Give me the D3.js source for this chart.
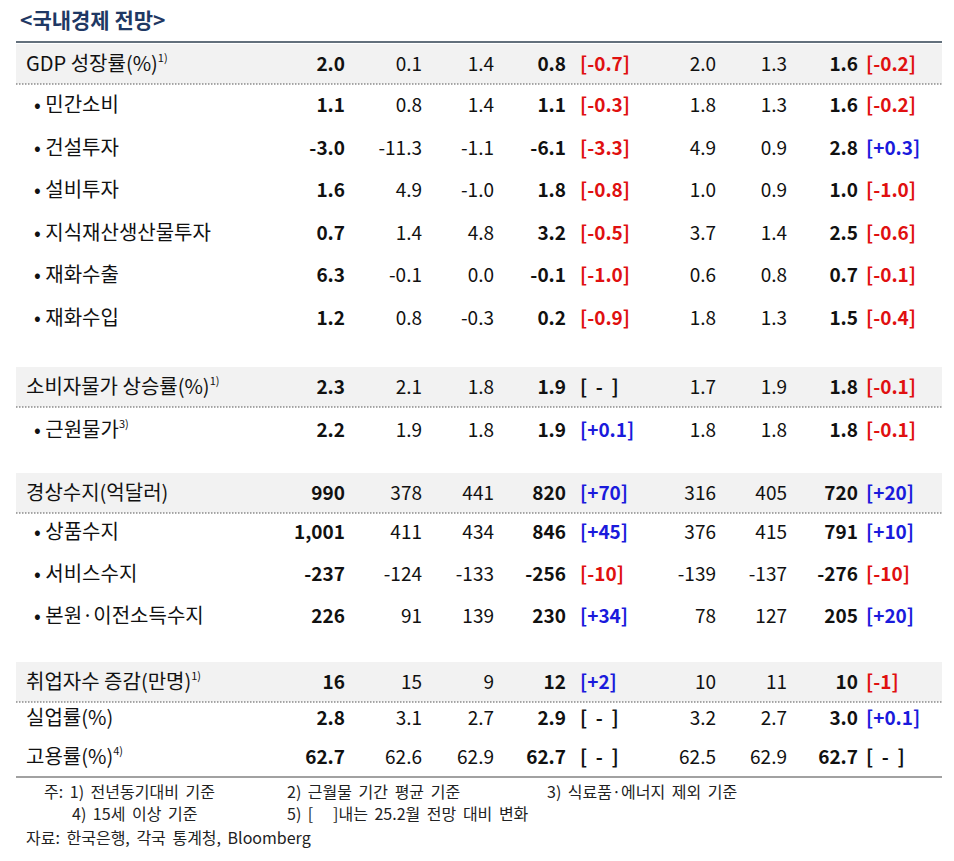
<!DOCTYPE html><html><head><meta charset="utf-8"><script src="https://cdn.jsdelivr.net/npm/d3@7"></script>
<style>body{margin:0;background:#fff}text{font-family:"Noto Sans CJK KR",sans-serif}</style></head><body><svg id="c" width="954" height="861"></svg>
<script>
const labels=["GDP 성장률(%)|1)","• 민간소비","• 건설투자","• 설비투자","• 지식재산생산물투자","• 재화수출","• 재화수입","소비자물가 상승률(%)|1)","• 근원물가|3)","경상수지(억달러)","• 상품수지","• 서비스수지","• 본원·이전소득수지","취업자수 증감(만명)|1)","실업률(%)","고용률(%)|4)"];
const rowY=[64,105,148,190,233,275,318,387,430,493,532,574,616,682,718,757];
const headerRows=[0,7,9,13];
const col1=["2.0","1.1","-3.0","1.6","0.7","6.3","1.2","2.3","2.2","990","1,001","-237","226","16","2.8","62.7"];
const col2=["0.1","0.8","-11.3","4.9","1.4","-0.1","0.8","2.1","1.9","378","411","-124","91","15","3.1","62.6"];
const col3=["1.4","1.4","-1.1","-1.0","4.8","0.0","-0.3","1.8","1.8","441","434","-133","139","9","2.7","62.9"];
const col4=["0.8","1.1","-6.1","1.8","3.2","-0.1","0.2","1.9","1.9","820","846","-256","230","12","2.9","62.7"];
const chg1=["-0.7","-0.3","-3.3","-0.8","-0.5","-1.0","-0.9"," - ","+0.1","+70","+45","-10","+34","+2"," - "," - "];
const col5=["2.0","1.8","4.9","1.0","3.7","0.6","1.8","1.7","1.8","316","376","-139","78","10","3.2","62.5"];
const col6=["1.3","1.3","0.9","0.9","1.4","0.8","1.3","1.9","1.8","405","415","-137","127","11","2.7","62.9"];
const col7=["1.6","1.6","2.8","1.0","2.5","0.7","1.5","1.8","1.8","720","791","-276","205","10","3.0","62.7"];
const chg2=["-0.2","-0.2","+0.3","-1.0","-0.6","-0.1","-0.4","-0.1","-0.1","+20","+10","-10","+20","-1","+0.1"," - "];
const notes=[["주: 1) 전년동기대비 기준",44,792],["2) 근월물 기간 평균 기준",287,792],["3) 식료품·에너지 제외 기준",547,792],["4) 15세 이상 기준",72,814],["5) [   ]내는 25.2월 전망 대비 변화",287,814],["자료: 한국은행, 각국 통계청, Bloomberg",26,838]];
const svg=d3.select("#c");
const y=d3.scaleLinear().domain([0,861]).range([0,861]);
svg.append("text").attr("x",20).attr("y",y(28)).attr("font-size",21).attr("font-weight",700).attr("fill","#1f3864").text("<국내경제 전망>");
headerRows.forEach(i=>{svg.append("rect").attr("x",16).attr("width",926).attr("y",y(rowY[i]-20)).attr("height",40).attr("fill","#f2f2f2");
 svg.append("line").attr("x1",16).attr("x2",942).attr("y1",y(rowY[i]+20)).attr("y2",y(rowY[i]+20)).attr("stroke","#555").attr("stroke-dasharray","1.5,1.5");});
svg.append("line").attr("x1",16).attr("x2",942).attr("y1",y(42)).attr("y2",y(42)).attr("stroke","#2f4050").attr("stroke-width",1.5);
svg.append("line").attr("x1",16).attr("x2",942).attr("y1",y(777)).attr("y2",y(777)).attr("stroke","#444").attr("stroke-width",1.2);
const fs=19;
labels.forEach((l,i)=>{const [t,sup]=l.split("|");const tx=svg.append("text").attr("x",headerRows.includes(i)||i>=14?26:34).attr("y",y(rowY[i]+7)).attr("font-size",20).attr("fill","#111").text(t);
 if(sup)tx.append("tspan").attr("font-size",11).attr("dy",-9).text(sup);});
const cols=[[col1,345,true],[col2,422,false],[col3,494,false],[col4,566,true],[col5,716,false],[col6,787,false],[col7,858,true]];
cols.forEach(([arr,x,b])=>arr.forEach((v,i)=>svg.append("text").attr("x",x).attr("y",y(rowY[i]+7)).attr("text-anchor","end").attr("font-size",fs).attr("font-weight",b?700:400).attr("fill","#111").text(v)));
[[chg1,580],[chg2,866]].forEach(([arr,x])=>arr.forEach((v,i)=>{const c=v.trim()==="-"?"#111":(v[0]==="+"?"#1a1adc":"#e01010");
 svg.append("text").attr("x",x).attr("y",y(rowY[i]+7)).attr("font-size",fs).attr("font-weight",700).attr("fill",c).attr("xml:space","preserve").text("["+(v.trim()==="-"?"  -  ":v)+"]");}));
notes.forEach(([t,x,yy])=>svg.append("text").attr("x",x).attr("y",y(yy+6)).attr("font-size",16).attr("word-spacing",3).attr("fill","#222").attr("xml:space","preserve").text(t));
</script></body></html>
